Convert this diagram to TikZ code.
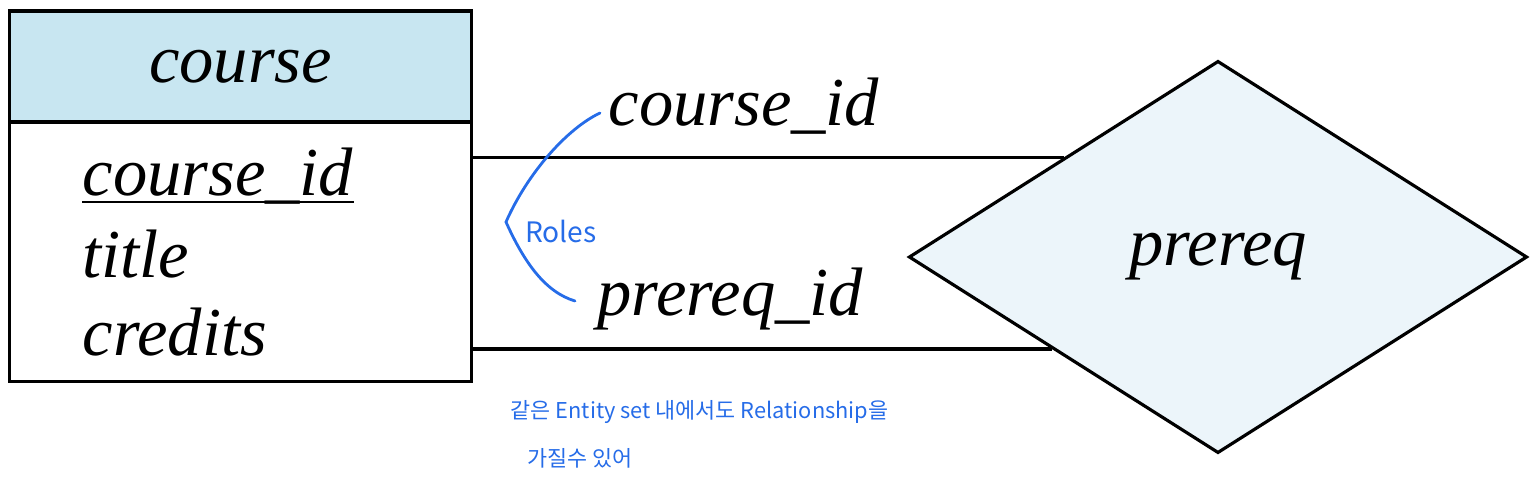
\documentclass[tikz,border=0pt]{standalone}
\usepackage{fontspec}
\setmainfont{Liberation Serif}
\newfontfamily\hangul{Noto Sans CJK KR}
\usetikzlibrary{shapes.geometric}
\definecolor{headblue}{RGB}{200,230,241}
\definecolor{diamblue}{RGB}{236,245,250}
\definecolor{penblue}{RGB}{38,108,232}
\begin{document}
\begin{tikzpicture}[x=0.01cm,y=-0.01cm]
	\tikzstyle{every node}+=[inner sep=0pt]
	\tikzstyle{ertext}=[font=\fontsize{19.5}{22}\selectfont\itshape]
	\tikzstyle{erline}=[draw=black,line width=0.9pt]
	\tikzstyle{memo}=[text=penblue,font=\hangul\fontsize{6.2}{8}\selectfont]
	\useasboundingbox (0,0) rectangle (1538,478);
	\node [erline,fill=headblue,minimum width=4.61cm,minimum height=1.11cm,ertext] (head) at (240.5,66.5) {course};
	\node [erline,minimum width=4.61cm,minimum height=2.59cm] (body) at (240.5,251.5) {};
	\node [ertext,anchor=base west] (attrid) at (82,195) {course\_id};
	\draw [line width=0.8pt] ([yshift=-0.7mm]attrid.base west) -- ([yshift=-0.7mm]attrid.base east);
	\node [ertext,anchor=base west] (attrtitle) at (82,277) {title};
	\node [ertext,anchor=base west] (attrcred) at (82,355) {credits};
	\node [erline,diamond,fill=diamblue,minimum width=6.18cm,minimum height=3.92cm,ertext] (rel) at (1218,257) {prereq};
	\draw [erline] (body.east |- rel.147.7) -- (rel.147.7);
	\draw [erline] (body.east |- rel.209.3) -- (rel.209.3);
	\node [ertext,anchor=base west] (rolea) at (608,125) {course\_id};
	\node [ertext,anchor=base west] (roleb) at (597,315) {prereq\_id};
	\draw [penblue,line width=0.8pt,line cap=round] (600,113) .. controls (568,128) and (528,172) .. (506,222) .. controls (524,262) and (545,292) .. (575,301);
	\node [memo,font=\hangul\fontsize{8}{9}\selectfont] (roles) at (561,231) {Roles};
	\node [memo,anchor=west] (note1) at (510,412) {같은 Entity set 내에서도 Relationship을};
	\node [memo,anchor=west] (note2) at (527,458) {가질수 있어};
\end{tikzpicture}
\end{document}
